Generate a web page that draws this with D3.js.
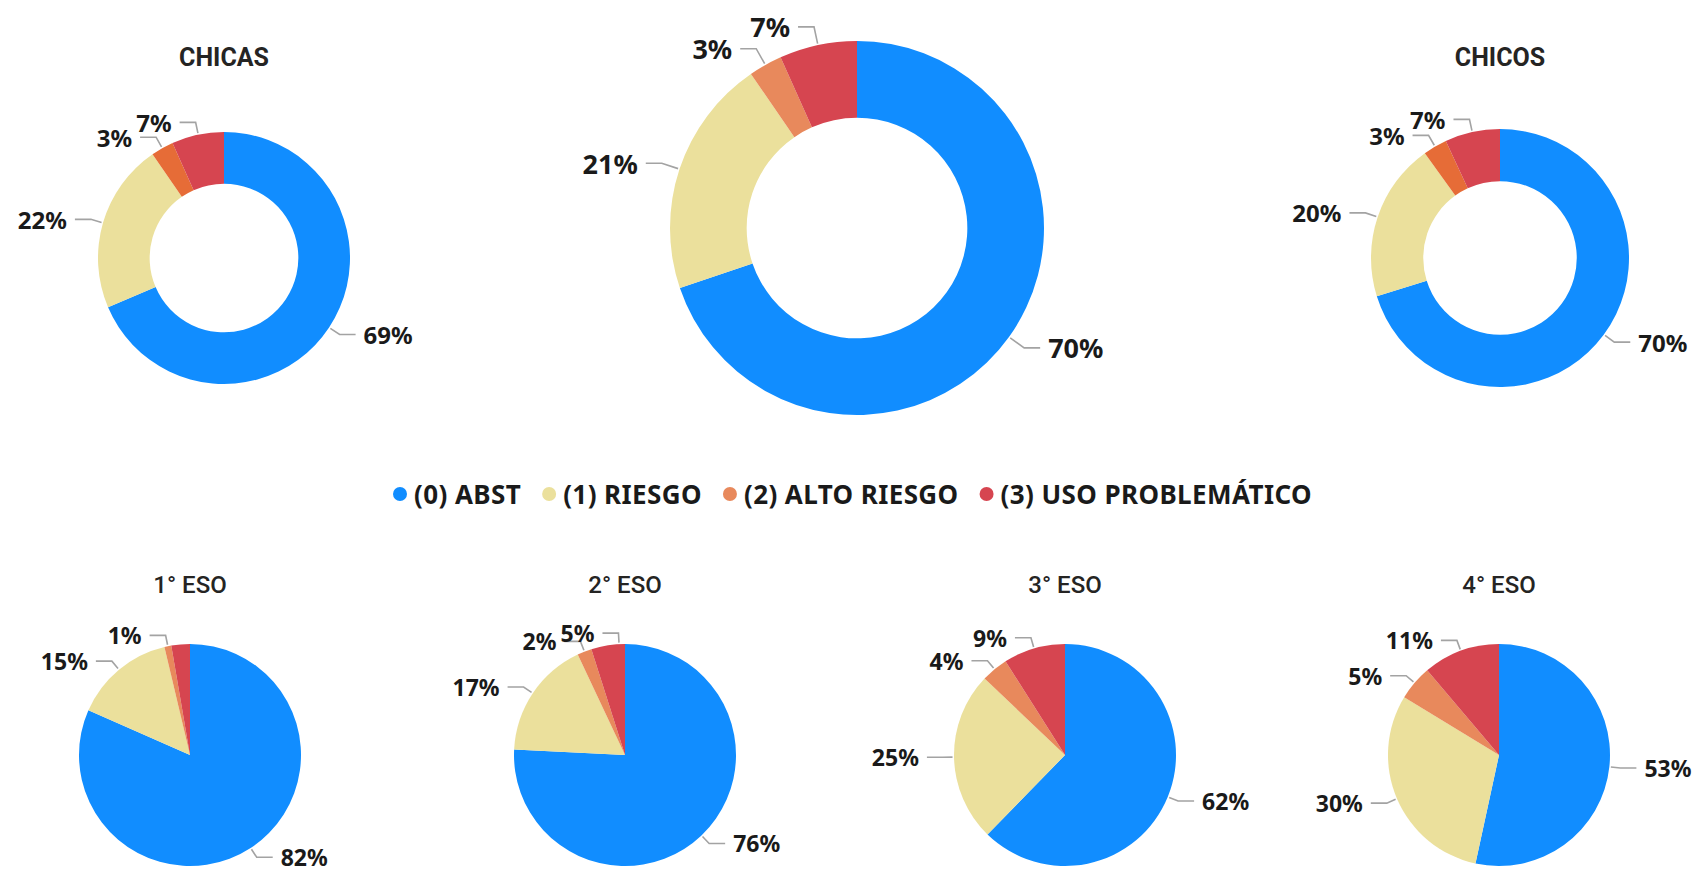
<!DOCTYPE html>
<html>
<head>
<meta charset="utf-8">
<script src="https://cdn.jsdelivr.net/npm/d3@7/dist/d3.min.js"></script>
<style>
  html, body { margin: 0; padding: 0; background: #ffffff; }
  svg { display: block; }
</style>
</head>
<body>
<svg id="chart" width="1697" height="870"></svg>
<script>
// ---------------- DATA ----------------
const categories = ["(0) ABST", "(1) RIESGO", "(2) ALTO RIESGO", "(3) USO PROBLEMÁTICO"];
const chartTitles = ["CHICAS", "", "CHICOS", "1° ESO", "2° ESO", "3° ESO", "4° ESO"];
// percentages per category (ABST, RIESGO, ALTO RIESGO, USO PROBLEMÁTICO)
const chicasValues = [68.6, 21.8, 2.9, 6.7];
const totalValues  = [69.8, 20.6, 2.9, 6.7];
const chicosValues = [70.2, 19.9, 3.0, 6.9];
const eso1Values   = [81.6, 14.7, 1.0, 2.7];
const eso2Values   = [75.8, 17.2, 2.1, 4.9];
const eso3Values   = [62.3, 24.8, 3.9, 9.0];
const eso4Values   = [53.4, 30.3, 5.1, 11.2];

// ---------------- STYLE ----------------
const colors = ["#118DFF", "#EBE09C", "#E8895C", "#D64550"];
const genderColors = ["#118DFF", "#EBE09C", "#E66C37", "#D64550"];
const textColor = "#1a1a1a";
const leaderColor = "#a3a3a3";
const labelFont = "'Noto Sans', 'Open Sans', sans-serif";
const titleFont = "Roboto, 'Noto Sans', sans-serif";

// ---------------- LAYOUT ----------------
const W = 1697, H = 870;
const svg = d3.select("#chart");

const charts = [
  { values: chicasValues, title: chartTitles[0], pal: genderColors, cx: 224,  cy: 258, r: 126, inner: 0.59, fs: 24, titleY: 57, titleFs: 25, titleW: 700 },
  { values: totalValues,  title: chartTitles[1], pal: colors,       cx: 857,  cy: 228, r: 187, inner: 0.59, fs: 27 },
  { values: chicosValues, title: chartTitles[2], pal: genderColors, cx: 1500, cy: 258, r: 129, inner: 0.595, fs: 24, titleY: 57, titleFs: 25, titleW: 700 },
  { values: eso1Values,   title: chartTitles[3], pal: colors, cx: 190,  cy: 755, r: 111, inner: 0, fs: 23, titleY: 585, titleFs: 24, titleW: 500 },
  { values: eso2Values,   title: chartTitles[4], pal: colors, cx: 625,  cy: 755, r: 111, inner: 0, fs: 23, titleY: 585, titleFs: 24, titleW: 500 },
  { values: eso3Values,   title: chartTitles[5], pal: colors, cx: 1065, cy: 755, r: 111, inner: 0, fs: 23, titleY: 585, titleFs: 24, titleW: 500 },
  { values: eso4Values,   title: chartTitles[6], pal: colors, cx: 1499, cy: 755, r: 111, inner: 0, fs: 23, titleY: 585, titleFs: 24, titleW: 500 }
];

const pctFmt = v => Math.round(v) + "%";

function drawChart(c) {
  const g = svg.append("g").attr("transform", `translate(${c.cx},${c.cy})`);
  const total = d3.sum(c.values);
  const arcs = d3.pie().sort(null).value(d => d)(c.values);
  const arcGen = d3.arc().innerRadius(c.r * c.inner).outerRadius(c.r);

  g.selectAll("path.slice").data(arcs).join("path")
    .attr("class", "slice")
    .attr("d", arcGen)
    .attr("fill", (d, i) => c.pal[i]);

  if (c.title) {
    svg.append("text")
      .attr("x", c.cx).attr("y", c.titleY)
      .attr("text-anchor", "middle").attr("dominant-baseline", "central")
      .attr("font-family", titleFont).attr("font-weight", c.titleW)
      .attr("font-size", c.titleFs).attr("fill", "#252423")
      .text(c.title);
  }

  // labels with leader lines
  const placed = [];
  const rad = 1.1 * c.r;
  const hLen = 16, gap = 8;
  const h = c.fs * 0.78;
  const geom = (ang, w) => {
    const s = Math.sin(ang), co = -Math.cos(ang);
    const p0 = [ (c.r + 1.5) * s, (c.r + 1.5) * co ];
    const p1 = [ rad * s, rad * co ];
    const side = s >= 0 ? 1 : -1;
    const p2 = [ p1[0] + side * hLen, p1[1] ];
    const tx = p1[0] + side * (hLen + gap);
    const x0 = side > 0 ? tx : tx - w;
    const box = { x0: x0 - 2, x1: x0 + w + 2, y0: p1[1] - h / 2 - 1, y1: p1[1] + h / 2 + 1 };
    return { p0, p1, p2, side, tx, box };
  };
  const overlaps = b => placed.some(o => !(b.x1 <= o.x0 || b.x0 >= o.x1 || b.y1 <= o.y0 || b.y0 >= o.y1));

  arcs.forEach((a, i) => {
    const label = pctFmt(a.value / total * 100);
    const t = g.append("text")
      .attr("font-family", labelFont).attr("font-weight", 700)
      .attr("font-size", c.fs).attr("fill", textColor)
      .attr("dominant-baseline", "central")
      .text(label);
    const w = t.node().getComputedTextLength();
    const mid = (a.startAngle + a.endAngle) / 2;
    const margin = 0.6 * Math.PI / 180;
    let best = null;
    const step = 0.25 * Math.PI / 180;
    for (let k = 0; k < 400 && !best; k++) {
      const cands = k === 0 ? [mid] : [mid + k * step, mid - k * step];
      for (const ang of cands) {
        if (ang < a.startAngle + margin || ang > a.endAngle - margin) {
          if (k !== 0) continue;
        }
        const gm = geom(ang, w);
        if (!overlaps(gm.box)) { best = gm; break; }
      }
      if (mid + k * step > a.endAngle && mid - k * step < a.startAngle) break;
    }
    if (!best) { t.remove(); return; }
    placed.push(best.box);
    t.attr("x", best.tx).attr("y", best.p1[1])
      .attr("text-anchor", best.side > 0 ? "start" : "end");
    g.insert("path", "text")
      .attr("d", d3.line()([best.p0, best.p1, best.p2]))
      .attr("fill", "none").attr("stroke", leaderColor).attr("stroke-width", 1.6);
  });
}

charts.forEach(drawChart);

// ---------------- LEGEND ----------------
const legendY = 494, legendCenter = 853, legendFs = 26, legendTargetW = 920;
const dotR = 7, dotGap = 15, itemGap = 27;
const lg = svg.append("g");
const items = categories.map((cat, i) => {
  const t = lg.append("text")
    .attr("font-family", labelFont).attr("font-weight", 700)
    .attr("font-size", legendFs).attr("fill", textColor)
    .attr("dominant-baseline", "central").attr("y", legendY)
    .text(cat);
  return { t, w: t.node().getComputedTextLength(), n: cat.length, i };
});
const fixedW = items.length * dotGap + (items.length - 1) * itemGap + dotR;
const natural = d3.sum(items, d => d.w) + fixedW;
const nChars = d3.sum(items, d => d.n);
const ls = Math.max(0, Math.min(2, (legendTargetW - natural) / nChars));
items.forEach(d => { d.t.attr("letter-spacing", ls); d.w = d.t.node().getComputedTextLength(); });
const totalW = d3.sum(items, d => d.w) + fixedW;
let x = legendCenter - totalW / 2 + dotR;
items.forEach(d => {
  lg.append("circle").attr("cx", x).attr("cy", legendY).attr("r", dotR).attr("fill", colors[d.i]);
  d.t.attr("x", x + dotGap - 1);
  x += dotGap + d.w + itemGap;
});
</script>
</body>
</html>
